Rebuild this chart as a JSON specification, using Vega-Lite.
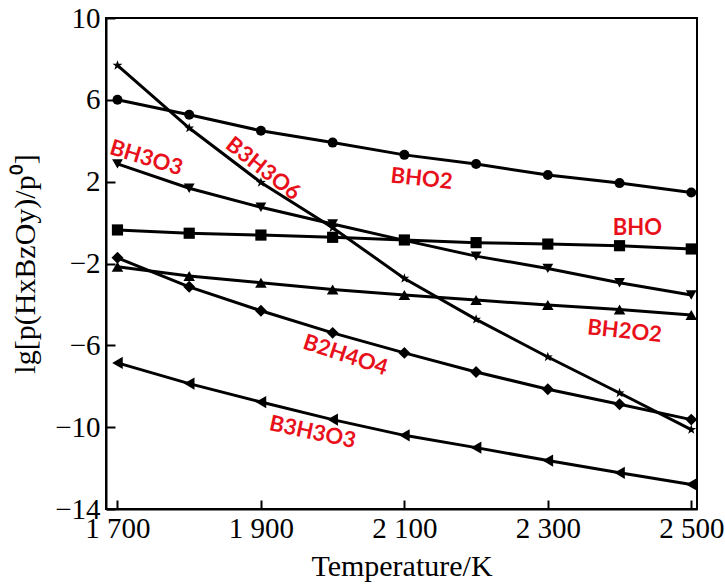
{
  "$schema": "https://vega.github.io/schema/vega-lite/v6.json",
  "autosize": "none",
  "width": 591,
  "height": 491,
  "padding": {"left": 106, "top": 18, "right": 28, "bottom": 77},
  "background": "white",
  "config": {
    "view": {"stroke": "black", "strokeWidth": 2},
    "style": {
      "species-label": {"font": "Lato", "fontSize": 22, "fontWeight": "bold", "align": "center", "baseline": "middle"}
    },
    "axis": {
      "grid": false,
      "domainColor": "black",
      "domainWidth": 2,
      "tickColor": "black",
      "tickWidth": 2,
      "tickSize": -9,
      "labelFont": "Liberation Serif",
      "labelFontSize": 29,
      "labelColor": "black",
      "titleFont": "Liberation Serif",
      "titleFontSize": 30,
      "titleFontWeight": "normal",
      "titleColor": "black"
    }
  },
  "datasets": {
    "curves": [
      {"species": "BHO2", "T": 1700, "lg": 6.0},
      {"species": "BHO2", "T": 1800, "lg": 5.27},
      {"species": "BHO2", "T": 1900, "lg": 4.49},
      {"species": "BHO2", "T": 2000, "lg": 3.91},
      {"species": "BHO2", "T": 2100, "lg": 3.31},
      {"species": "BHO2", "T": 2200, "lg": 2.86},
      {"species": "BHO2", "T": 2300, "lg": 2.33},
      {"species": "BHO2", "T": 2400, "lg": 1.93},
      {"species": "BHO2", "T": 2500, "lg": 1.47},
      {"species": "B3H3O6", "T": 1700, "lg": 7.68},
      {"species": "B3H3O6", "T": 1800, "lg": 4.62},
      {"species": "B3H3O6", "T": 1900, "lg": 1.96},
      {"species": "B3H3O6", "T": 2000, "lg": -0.25},
      {"species": "B3H3O6", "T": 2100, "lg": -2.73},
      {"species": "B3H3O6", "T": 2200, "lg": -4.73},
      {"species": "B3H3O6", "T": 2300, "lg": -6.57},
      {"species": "B3H3O6", "T": 2400, "lg": -8.33},
      {"species": "B3H3O6", "T": 2500, "lg": -10.12},
      {"species": "BH3O3", "T": 1700, "lg": 2.87},
      {"species": "BH3O3", "T": 1800, "lg": 1.68},
      {"species": "BH3O3", "T": 1900, "lg": 0.75},
      {"species": "BH3O3", "T": 2000, "lg": -0.07},
      {"species": "BH3O3", "T": 2100, "lg": -0.87},
      {"species": "BH3O3", "T": 2200, "lg": -1.64},
      {"species": "BH3O3", "T": 2300, "lg": -2.24},
      {"species": "BH3O3", "T": 2400, "lg": -2.94},
      {"species": "BH3O3", "T": 2500, "lg": -3.54},
      {"species": "BHO", "T": 1700, "lg": -0.36},
      {"species": "BHO", "T": 1800, "lg": -0.52},
      {"species": "BHO", "T": 1900, "lg": -0.61},
      {"species": "BHO", "T": 2000, "lg": -0.72},
      {"species": "BHO", "T": 2100, "lg": -0.85},
      {"species": "BHO", "T": 2200, "lg": -0.98},
      {"species": "BHO", "T": 2300, "lg": -1.05},
      {"species": "BHO", "T": 2400, "lg": -1.13},
      {"species": "BHO", "T": 2500, "lg": -1.29},
      {"species": "BH2O2", "T": 1700, "lg": -2.16},
      {"species": "BH2O2", "T": 1800, "lg": -2.61},
      {"species": "BH2O2", "T": 1900, "lg": -2.94},
      {"species": "BH2O2", "T": 2000, "lg": -3.27},
      {"species": "BH2O2", "T": 2100, "lg": -3.54},
      {"species": "BH2O2", "T": 2200, "lg": -3.79},
      {"species": "BH2O2", "T": 2300, "lg": -4.03},
      {"species": "BH2O2", "T": 2400, "lg": -4.25},
      {"species": "BH2O2", "T": 2500, "lg": -4.52},
      {"species": "B2H4O4", "T": 1700, "lg": -1.72},
      {"species": "B2H4O4", "T": 1800, "lg": -3.14},
      {"species": "B2H4O4", "T": 1900, "lg": -4.31},
      {"species": "B2H4O4", "T": 2000, "lg": -5.39},
      {"species": "B2H4O4", "T": 2100, "lg": -6.37},
      {"species": "B2H4O4", "T": 2200, "lg": -7.3},
      {"species": "B2H4O4", "T": 2300, "lg": -8.15},
      {"species": "B2H4O4", "T": 2400, "lg": -8.88},
      {"species": "B2H4O4", "T": 2500, "lg": -9.63},
      {"species": "B3H3O3", "T": 1700, "lg": -6.86},
      {"species": "B3H3O3", "T": 1800, "lg": -7.87},
      {"species": "B3H3O3", "T": 1900, "lg": -8.77},
      {"species": "B3H3O3", "T": 2000, "lg": -9.63},
      {"species": "B3H3O3", "T": 2100, "lg": -10.4},
      {"species": "B3H3O3", "T": 2200, "lg": -11.0},
      {"species": "B3H3O3", "T": 2300, "lg": -11.63},
      {"species": "B3H3O3", "T": 2400, "lg": -12.23},
      {"species": "B3H3O3", "T": 2500, "lg": -12.8}
    ],
    "labels": [
      {"label": "BH3O3", "T": 1740, "lg": 3.16},
      {"label": "B3H3O6", "T": 1903, "lg": 2.63},
      {"label": "BHO2", "T": 2124, "lg": 2.14},
      {"label": "BHO", "T": 2425, "lg": -0.26},
      {"label": "BH2O2", "T": 2407, "lg": -5.31},
      {"label": "B2H4O4", "T": 2018, "lg": -6.48},
      {"label": "B3H3O3", "T": 1972, "lg": -10.25}
    ]
  },
  "encoding": {
    "x": {
      "field": "T",
      "type": "quantitative",
      "scale": {"domain": [1684, 2508], "nice": false, "zero": false},
      "axis": {
        "title": "Temperature/K",
        "values": [1700, 1900, 2100, 2300, 2500],
        "labelExpr": "slice(toString(datum.value), 0, 1) + ' ' + slice(toString(datum.value), 1)",
        "labelPadding": 14,
        "titlePadding": 8
      }
    },
    "y": {
      "field": "lg",
      "type": "quantitative",
      "scale": {"domain": [-14, 10], "nice": false, "zero": false},
      "axis": {
        "title": "lg[p(HxBzOy)/p⁰]",
        "values": [-14, -10, -6, -2, 2, 6, 10],
        "labelPadding": 15,
        "titlePadding": 14
      }
    }
  },
  "layer": [
    {
      "data": {"name": "curves"},
      "mark": {"type": "line", "color": "black", "strokeWidth": 3},
      "encoding": {"detail": {"field": "species"}}
    },
    {
      "data": {"name": "curves"},
      "mark": {"type": "point", "filled": true, "color": "black", "opacity": 1},
      "encoding": {
        "shape": {
          "field": "species",
          "type": "nominal",
          "scale": {
            "domain": ["BHO2", "B3H3O6", "BH3O3", "BHO", "BH2O2", "B2H4O4", "B3H3O3"],
            "range": ["circle", "M0,-1L0.235,-0.324L0.951,-0.309L0.38,0.124L0.588,0.809L0,0.4L-0.588,0.809L-0.38,0.124L-0.951,-0.309L-0.235,-0.324Z", "triangle-down", "square", "triangle-up", "diamond", "triangle-left"]
          },
          "legend": null
        },
        "size": {
          "field": "species",
          "type": "nominal",
          "scale": {
            "domain": ["BHO2", "B3H3O6", "BH3O3", "BHO", "BH2O2", "B2H4O4", "B3H3O3"],
            "range": [100, 150, 70, 100, 70, 70, 70]
          },
          "legend": null
        }
      }
    },
    {
      "data": {"name": "labels"},
      "transform": [{"filter": "datum.label === 'BH3O3'"}],
      "mark": {"type": "text", "style": "species-label", "color": "#e8101a", "angle": 17},
      "encoding": {"text": {"field": "label"}}
    },
    {
      "data": {"name": "labels"},
      "transform": [{"filter": "datum.label === 'B3H3O6'"}],
      "mark": {"type": "text", "style": "species-label", "color": "#e8101a", "angle": 38},
      "encoding": {"text": {"field": "label"}}
    },
    {
      "data": {"name": "labels"},
      "transform": [{"filter": "datum.label === 'BHO2'"}],
      "mark": {"type": "text", "style": "species-label", "color": "#e8101a", "angle": 6},
      "encoding": {"text": {"field": "label"}}
    },
    {
      "data": {"name": "labels"},
      "transform": [{"filter": "datum.label === 'BHO'"}],
      "mark": {"type": "text", "style": "species-label", "color": "#e8101a", "angle": 0},
      "encoding": {"text": {"field": "label"}}
    },
    {
      "data": {"name": "labels"},
      "transform": [{"filter": "datum.label === 'BH2O2'"}],
      "mark": {"type": "text", "style": "species-label", "color": "#e8101a", "angle": 6},
      "encoding": {"text": {"field": "label"}}
    },
    {
      "data": {"name": "labels"},
      "transform": [{"filter": "datum.label === 'B2H4O4'"}],
      "mark": {"type": "text", "style": "species-label", "color": "#e8101a", "angle": 18},
      "encoding": {"text": {"field": "label"}}
    },
    {
      "data": {"name": "labels"},
      "transform": [{"filter": "datum.label === 'B3H3O3'"}],
      "mark": {"type": "text", "style": "species-label", "color": "#e8101a", "angle": 12},
      "encoding": {"text": {"field": "label"}}
    }
  ]
}
